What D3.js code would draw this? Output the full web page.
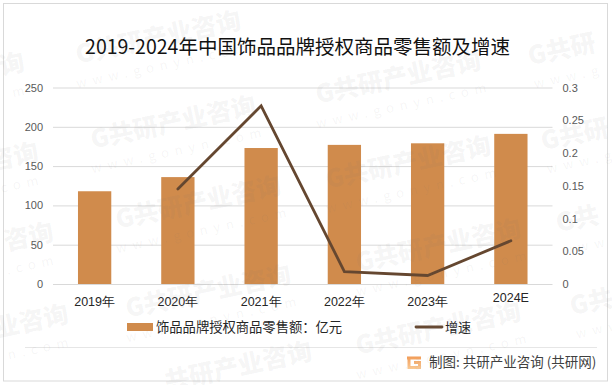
<!DOCTYPE html>
<html>
<head>
<meta charset="utf-8">
<script src="https://cdn.jsdelivr.net/npm/d3@7"></script>
<style>
html, body { margin: 0; padding: 0; background: #fff; }
svg { display: block; font-family: "Noto Sans CJK SC", sans-serif; }
</style>
</head>
<body>
<svg id="chart" width="612" height="385"></svg>
<script>
const categories = ["2019年", "2020年", "2021年", "2022年", "2023年", "2024E"];
const salesValues = [118, 136, 173, 177, 179, 191];
const growthValues = [null, 0.145, 0.272, 0.019, 0.013, 0.066];
const leftTicks = [0, 50, 100, 150, 200, 250];
const rightTicks = [0, 0.05, 0.1, 0.15, 0.2, 0.25, 0.3];

const barColor = "#d08b4c";
const lineColor = "#654730";

const svg = d3.select("#chart");
const margin = { top: 87.5, right: 59.5, bottom: 101, left: 53 };
const width = +svg.attr("width");
const height = +svg.attr("height");

// outer frame
svg.append("rect")
    .attr("x", 3.5).attr("y", 3.5)
    .attr("width", 604).attr("height", 377.5)
    .attr("fill", "#fff")
    .attr("stroke", "#d9d9d9")
    .attr("stroke-width", 1);

const xScale = d3.scaleBand()
    .domain(categories)
    .range([margin.left, width - margin.right])
    .paddingInner(0.6)
    .paddingOuter(0.3);

const yLeft = d3.scaleLinear().domain([0, 250]).range([height - margin.bottom, margin.top]);
const yRight = d3.scaleLinear().domain([0, 0.3]).range([height - margin.bottom, margin.top]);

// gridlines and axes
const leftAxis = d3.axisLeft(yLeft)
    .tickValues(leftTicks)
    .tickSize(-(width - margin.left - margin.right))
    .tickPadding(10);

const gLeft = svg.append("g")
    .attr("transform", `translate(${margin.left},0)`)
    .call(leftAxis);
gLeft.select(".domain").remove();
gLeft.selectAll("line").attr("stroke", "#d9d9d9");
gLeft.selectAll("text").attr("fill", "#595959").style("font-size", "11px");

const rightAxis = d3.axisRight(yRight)
    .tickValues(rightTicks)
    .tickFormat(d => String(d))
    .tickSize(0)
    .tickPadding(10);

const gRight = svg.append("g")
    .attr("transform", `translate(${width - margin.right},0)`)
    .call(rightAxis);
gRight.select(".domain").remove();
gRight.selectAll("text").attr("fill", "#595959").style("font-size", "11px");

const xAxis = d3.axisBottom(xScale).tickSize(0).tickPadding(13);
const gX = svg.append("g")
    .attr("transform", `translate(0,${height - margin.bottom})`)
    .call(xAxis);
gX.select(".domain").remove();
gX.selectAll("text")
    .attr("fill", "#262626")
    .style("font-size", "12.5px")
    .attr("dy", d => d === "2024E" ? "0.4em" : "0.71em");

// bars
svg.selectAll(".bar")
    .data(salesValues)
    .enter().append("rect")
    .attr("class", "bar")
    .attr("x", (d, i) => xScale(categories[i]))
    .attr("y", d => yLeft(d))
    .attr("width", xScale.bandwidth())
    .attr("height", d => yLeft(0) - yLeft(d))
    .attr("fill", barColor);

// growth line, starts at 2020
const line = d3.line()
    .defined(d => d !== null)
    .x((d, i) => xScale(categories[i]) + xScale.bandwidth() / 2)
    .y(d => yRight(d));

svg.append("path")
    .attr("d", line(growthValues))
    .attr("fill", "none")
    .attr("stroke", lineColor)
    .attr("stroke-width", 2.8)
    .attr("stroke-linecap", "round");

// title
svg.append("text")
    .attr("x", 297.5).attr("y", 54)
    .attr("text-anchor", "middle")
    .attr("fill", "#111")
    .style("font-size", "19.5px")
    .text("2019-2024年中国饰品品牌授权商品零售额及增速");

// legend
svg.append("rect")
    .attr("x", 127).attr("y", 323)
    .attr("width", 26).attr("height", 8)
    .attr("fill", barColor);
svg.append("text")
    .attr("x", 156).attr("y", 332)
    .attr("fill", "#262626")
    .style("font-size", "13.3px")
    .text("饰品品牌授权商品零售额：亿元");
svg.append("line")
    .attr("x1", 416).attr("x2", 442)
    .attr("y1", 327).attr("y2", 327)
    .attr("stroke", lineColor)
    .attr("stroke-width", 2.8)
    .attr("stroke-linecap", "round");
svg.append("text")
    .attr("x", 445).attr("y", 332)
    .attr("fill", "#262626")
    .style("font-size", "13px")
    .text("增速");

// footer
svg.append("line")
    .attr("x1", 25).attr("x2", 597)
    .attr("y1", 347.5).attr("y2", 347.5)
    .attr("stroke", "#e6e6e6");

const defs = svg.append("defs");
const logoGrad = defs.append("linearGradient")
    .attr("id", "logoGrad")
    .attr("gradientUnits", "userSpaceOnUse")
    .attr("x1", 0).attr("y1", 356).attr("x2", 0).attr("y2", 369);
logoGrad.append("stop").attr("offset", 0).attr("stop-color", "#f19a55");
logoGrad.append("stop").attr("offset", 1).attr("stop-color", "#f9c994");

// logo, a G made of thick strokes
svg.append("path")
    .attr("d", "M407 358H421M409 358V367.5H419.5V362.5H414")
    .attr("fill", "none")
    .attr("stroke", "url(#logoGrad)")
    .attr("stroke-width", 3);

svg.append("text")
    .attr("x", 429).attr("y", 367)
    .attr("fill", "#404040")
    .style("font-size", "13.5px")
    .text("制图: 共研产业咨询 (共研网)");

// watermark on top of everything, cut stamps only carry what shows inside the page
const stamps = [
    { x: 26, y: 70, anchor: "end", brand: "询", site: "m" },
    { x: 40, y: 160, anchor: "end", brand: "咨询", site: ".com" },
    { x: 55, y: 240, anchor: "end", brand: "咨询", site: ".com" },
    { x: 70, y: 322, anchor: "end", brand: "业咨询", site: "n.com" },
    { x: 160, y: 46, anchor: "middle", brand: "G共研产业咨询", site: "www.gonyn.com" },
    { x: 175, y: 131, anchor: "middle", brand: "G共研产业咨询", site: "www.gonyn.com" },
    { x: 200, y: 211, anchor: "middle", brand: "G共研产业咨询", site: "www.gonyn.com" },
    { x: 210, y: 300, anchor: "middle", brand: "G共研产业咨询", site: "www.gonyn.com" },
    { x: 240, y: 375, anchor: "middle", brand: "共研产业咨询", site: "" },
    { x: 400, y: 86, anchor: "middle", brand: "G共研产业咨询", site: "www.gonyn.com" },
    { x: 410, y: 171, anchor: "middle", brand: "G共研产业咨询", site: "www.gonyn.com" },
    { x: 440, y: 254, anchor: "middle", brand: "G共研产业咨询", site: "www.gonyn.com" },
    { x: 440, y: 337, anchor: "middle", brand: "G共研产业咨询", site: "www.gonyn.com" },
    { x: 530, y: 65, anchor: "start", brand: "G共研", site: "www.g" },
    { x: 543, y: 150, anchor: "start", brand: "G共研", site: "www.g" },
    { x: 558, y: 232, anchor: "start", brand: "G共", site: "www" },
    { x: 572, y: 315, anchor: "start", brand: "G共", site: "www" }
];

const wm = svg.append("g").attr("pointer-events", "none");
stamps.forEach(s => {
    const g = wm.append("g").attr("transform", `translate(${s.x},${s.y}) rotate(-12)`);
    g.append("text")
        .attr("text-anchor", s.anchor)
        .attr("fill", "#777")
        .attr("fill-opacity", 0.07)
        .style("font-size", "25px")
        .style("font-weight", 900)
        .text(s.brand);
    g.append("text")
        .attr("y", 24)
        .attr("text-anchor", s.anchor)
        .attr("fill", "#777")
        .attr("fill-opacity", 0.07)
        .style("font-size", "13px")
        .style("letter-spacing", "6px")
        .text(s.site);
});
</script>
</body>
</html>
